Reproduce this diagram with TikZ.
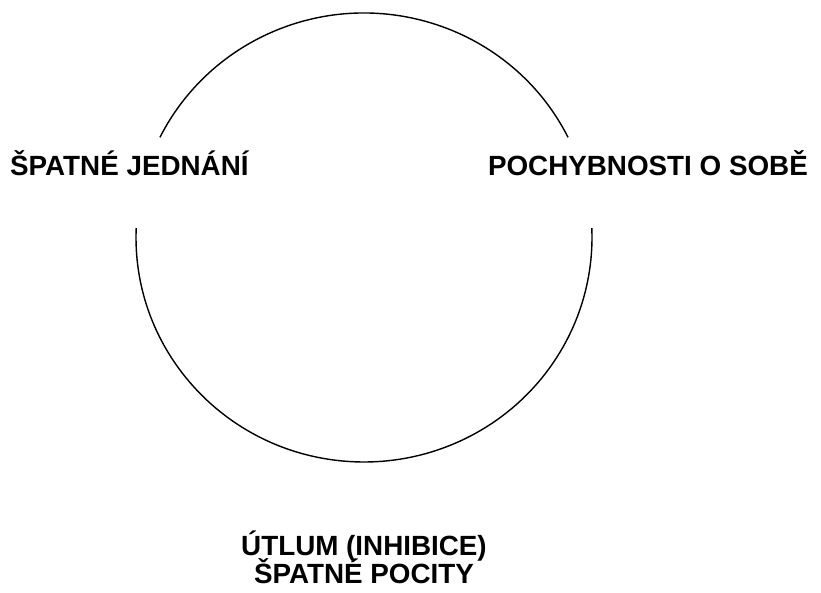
\documentclass[tikz,border=0pt]{standalone}
\usepackage{fontspec}
\setmainfont{Liberation Sans}
\begin{document}
\begin{tikzpicture}[x=1pt,y=1pt,
  lbl/.style={font=\bfseries\fontsize{27.8}{28.5}\selectfont, inner sep=0pt, align=center},
  ring/.style={line width=1.4pt, black}]
\useasboundingbox (0,0) rectangle (821,592);
\coordinate (c) at (364,354.5);
% upper arc
\draw[ring] ([shift={(26.5:228pt and 224.5pt)}]c) arc[start angle=26.5, end angle=153.5, x radius=228pt, y radius=224.5pt];
% lower arc
\draw[ring] ([shift={(177.6:228pt and 224.5pt)}]c) arc[start angle=177.6, end angle=362.4, x radius=228pt, y radius=224.5pt];
\node[lbl, anchor=base west] (left) at (10,416) {ŠPATNÉ JEDNÁNÍ};
\node[lbl, anchor=base east] (right) at (808,416) {POCHYBNOSTI O SOBĚ};
\node[lbl, anchor=base] (bot1) at (364,37) {ÚTLUM (INHIBICE)};
\node[lbl, anchor=base] (bot2) at (364,9) {ŠPATNÉ POCITY};
\end{tikzpicture}
\end{document}
